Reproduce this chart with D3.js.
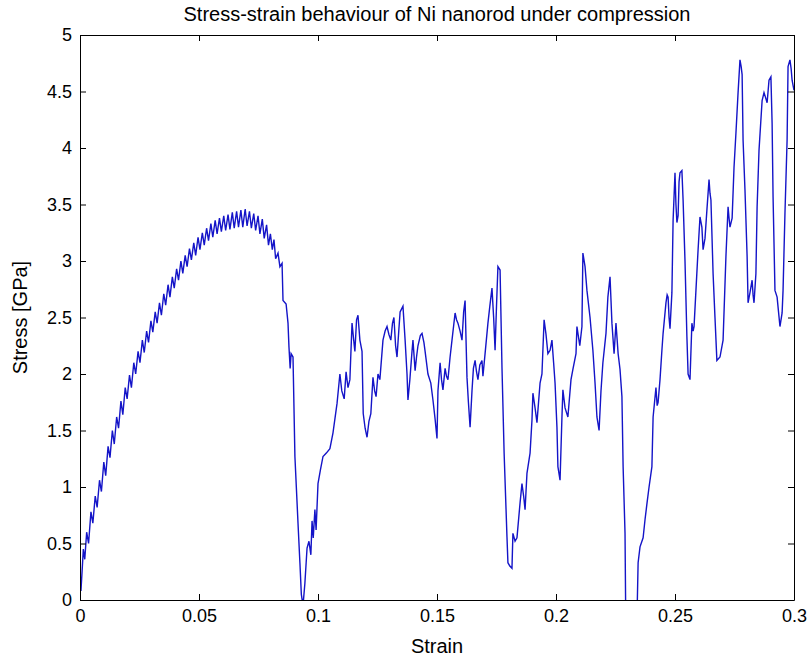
<!DOCTYPE html>
<html>
<head>
<meta charset="utf-8">
<script src="https://cdn.jsdelivr.net/npm/d3@7"></script>
<style>
  body { margin: 0; background: #fff; }
  svg text { font-family: "Liberation Sans", Arial, sans-serif; fill: #000; }
</style>
</head>
<body>
<div id="chart"></div>
<script>
// strain / stress pairs, split by regime
const loading = [
  [0.0000,0.22],[0.0004,0.08],[0.0010,0.30],[0.0014,0.45],[0.0020,0.36],[0.0028,0.60],[0.0036,0.50],
  [0.0046,0.78],[0.0054,0.68],[0.0064,0.92],[0.0072,0.82],[0.0082,1.06],[0.0090,0.96],[0.0100,1.22],
  [0.0108,1.10],[0.0118,1.36],[0.0126,1.26],[0.0136,1.50],[0.0144,1.38],[0.0154,1.62],[0.0162,1.52],
  [0.0172,1.76],[0.0180,1.64],[0.0190,1.88],[0.0198,1.78],[0.0208,1.99],[0.0216,1.88],[0.0226,2.10],
  [0.0234,2.00],[0.0244,2.20],[0.0252,2.10],[0.0262,2.30],[0.0270,2.19],[0.0280,2.38],[0.0288,2.28],
  [0.0298,2.47],[0.0306,2.37],[0.0316,2.55],[0.0324,2.45],[0.0334,2.63],[0.0342,2.52],[0.0352,2.71],
  [0.0360,2.61],[0.0370,2.79],[0.0378,2.68],[0.0388,2.86],[0.0396,2.76],[0.0406,2.93],[0.0414,2.83],
  [0.0424,3.00],[0.0432,2.89],[0.0442,3.05],[0.0450,2.95],[0.0460,3.11],[0.0468,3.01],[0.0478,3.16],
  [0.0486,3.05],[0.0496,3.21],[0.0504,3.10],[0.0514,3.25],[0.0522,3.14],[0.0532,3.29],[0.0540,3.18],
  [0.0550,3.33],[0.0558,3.21],[0.0568,3.36],[0.0576,3.24],[0.0586,3.38],[0.0594,3.26],[0.0604,3.40],
  [0.0612,3.27],[0.0622,3.41],[0.0630,3.28],[0.0640,3.43],[0.0648,3.29],[0.0658,3.44],[0.0666,3.30],
  [0.0676,3.45],[0.0684,3.30],[0.0694,3.46],[0.0702,3.31],[0.0712,3.44],[0.0720,3.29],[0.0730,3.42],
  [0.0738,3.27],[0.0748,3.40],[0.0756,3.24],[0.0766,3.37],[0.0774,3.20],[0.0784,3.32],[0.0792,3.14],
  [0.0800,3.24],[0.0808,3.10]
];
const firstDrop = [
  [0.0815,3.19],[0.0822,3.02],[0.0832,3.07],[0.0840,2.95],[0.0849,2.98],[0.0853,2.65],[0.0866,2.62],
  [0.0874,2.45],[0.0878,2.24],[0.0883,2.05],[0.0887,2.18],[0.0895,2.15],[0.0903,1.27],[0.0916,0.68],
  [0.0924,0.33],[0.0930,0.05],[0.0937,-0.05],[0.0945,0.15],[0.0954,0.46]
];
const recovery = [
  [0.0962,0.52],[0.0970,0.40],[0.0975,0.70],[0.0980,0.55],[0.0987,0.80],[0.0992,0.62],[0.1000,1.03],
  [0.1010,1.15],[0.1021,1.27],[0.1035,1.30],[0.1050,1.34],[0.1063,1.48],[0.1080,1.74],[0.1092,2.00],
  [0.1100,1.85],[0.1110,1.78],[0.1118,2.02],[0.1126,1.88],[0.1134,1.95],[0.1143,2.45],[0.1150,2.30],
  [0.1155,2.20],[0.1162,2.48],[0.1168,2.52],[0.1176,2.30],[0.1185,2.20],[0.1190,1.65],[0.1198,1.52],
  [0.1206,1.44],[0.1214,1.58],[0.1222,1.65],[0.1231,1.97],[0.1238,1.85],[0.1244,1.80],[0.1252,2.00],
  [0.1260,1.95],[0.1273,2.30],[0.1282,2.38],[0.1290,2.42],[0.1298,2.35],[0.1306,2.30],[0.1313,2.45],
  [0.1319,2.50],[0.1326,2.25],[0.1332,2.15],[0.1340,2.40],[0.1345,2.55],[0.1357,2.60],[0.1366,2.30],
  [0.1374,2.00],[0.1378,1.77],[0.1386,1.95],[0.1395,2.20],[0.1399,2.30],[0.1408,2.03],[0.1414,2.15],
  [0.1420,2.25],[0.1430,2.34],[0.1437,2.36],[0.1445,2.28],[0.1450,2.20],[0.1462,2.00],[0.1474,1.92],
  [0.1483,1.77],[0.1492,1.60],[0.1500,1.43],[0.1504,1.85],[0.1513,2.10],[0.1519,1.95],[0.1525,1.86],
  [0.1534,2.05],[0.1540,1.98],[0.1546,1.95],[0.1555,2.15],[0.1563,2.30],[0.1576,2.54],[0.1582,2.48],
  [0.1588,2.45],[0.1597,2.38],[0.1605,2.30],[0.1612,2.55],[0.1618,2.65],[0.1622,2.30],[0.1626,1.97],
  [0.1632,1.75],[0.1639,1.53],[0.1647,1.85],[0.1653,2.05],[0.1660,2.12],[0.1666,2.02],[0.1672,1.95],
  [0.1680,2.08],[0.1689,2.12],[0.1693,1.98],[0.1702,2.18],[0.1714,2.45],[0.1722,2.60],[0.1731,2.76],
  [0.1738,2.50],[0.1744,2.21],[0.1750,2.60],[0.1756,2.95],[0.1765,2.92],[0.1773,2.06],[0.1782,1.30],
  [0.1794,0.56],[0.1798,0.33],[0.1806,0.30],[0.1815,0.28],[0.1819,0.59],[0.1828,0.52],[0.1836,0.55],
  [0.1849,0.86],[0.1857,1.03],[0.1864,0.92],[0.1870,0.80],[0.1878,1.12],[0.1891,1.30],[0.1899,1.59],
  [0.1903,1.83],[0.1912,1.70],[0.1920,1.57],[0.1933,1.92],[0.1941,2.00],[0.1950,2.48],[0.1958,2.35],
  [0.1966,2.18],[0.1975,2.21],[0.1983,2.30],[0.1990,2.10],[0.1996,1.92],[0.2004,1.53],[0.2008,1.18],
  [0.2017,1.06],[0.2025,1.62],[0.2029,1.86],[0.2038,1.70],[0.2050,1.62],[0.2063,1.95],[0.2071,2.04],
  [0.2084,2.18],[0.2088,2.42],[0.2100,2.25],[0.2109,2.42],[0.2113,3.07],[0.2122,2.95],[0.2130,2.74],
  [0.2143,2.50],[0.2155,2.21],[0.2164,1.92],[0.2172,1.62],[0.2181,1.50],[0.2189,1.85],[0.2197,2.10],
  [0.2210,2.36],[0.2218,2.68],[0.2227,2.86],[0.2235,2.45],[0.2244,2.18],[0.2252,2.45],[0.2261,2.18],
  [0.2269,2.04],[0.2277,1.80],[0.2282,1.18],[0.2290,0.59],[0.2294,-0.40]
];
const finalRise = [
  [0.2338,-0.40],[0.2345,0.33],[0.2353,0.47],[0.2366,0.55],[0.2374,0.71],[0.2382,0.85],[0.2391,1.00],
  [0.2403,1.18],[0.2408,1.62],[0.2420,1.88],[0.2425,1.72],[0.2429,1.75],[0.2437,1.95],[0.2445,2.21],
  [0.2450,2.36],[0.2462,2.63],[0.2467,2.70],[0.2471,2.68],[0.2475,2.50],[0.2479,2.40],[0.2487,2.72],
  [0.2492,3.36],[0.2500,3.78],[0.2504,3.50],[0.2508,3.34],[0.2513,3.40],[0.2517,3.70],[0.2521,3.78],
  [0.2529,3.80],[0.2534,3.54],[0.2542,3.00],[0.2550,2.33],[0.2555,2.00],[0.2563,1.95],[0.2571,2.45],
  [0.2576,2.38],[0.2580,2.42],[0.2588,2.74],[0.2597,3.10],[0.2605,3.39],[0.2613,3.30],[0.2618,3.10],
  [0.2626,3.20],[0.2634,3.45],[0.2643,3.72],[0.2647,3.60],[0.2651,3.54],[0.2660,2.89],[0.2668,2.50],
  [0.2676,2.12],[0.2689,2.15],[0.2702,2.30],[0.2714,3.04],[0.2723,3.48],[0.2727,3.38],[0.2731,3.30],
  [0.2740,3.38],[0.2748,3.83],[0.2756,4.13],[0.2765,4.49],[0.2773,4.78],[0.2778,4.72],[0.2782,4.65],
  [0.2786,4.07],[0.2794,3.63],[0.2803,3.04],[0.2807,2.63],[0.2815,2.72],[0.2824,2.83],[0.2828,2.70],
  [0.2832,2.63],[0.2840,2.89],[0.2845,3.48],[0.2853,3.98],[0.2866,4.42],[0.2874,4.49],[0.2880,4.45],
  [0.2887,4.40],[0.2895,4.60],[0.2903,4.63],[0.2908,4.22],[0.2912,3.57],[0.2920,2.74],[0.2929,2.68],
  [0.2935,2.55],[0.2941,2.42],[0.2950,2.54],[0.2954,2.74],[0.2962,3.42],[0.2971,4.07],[0.2975,4.72],
  [0.2983,4.78],[0.2988,4.70],[0.2992,4.60],[0.3000,4.51]
];

const xTicks = [0, 0.05, 0.1, 0.15, 0.2, 0.25, 0.3];
const yTicks = [0, 0.5, 1, 1.5, 2, 2.5, 3, 3.5, 4, 4.5, 5];

const title = "Stress-strain behaviour of Ni nanorod under compression";
const xLabel = "Strain";
const yLabel = "Stress [GPa]";

const width = 810, height = 660;
const margin = {top: 35, right: 16, bottom: 60, left: 80};
const innerW = width - margin.left - margin.right;
const innerH = height - margin.top - margin.bottom;

const curve = loading.concat(firstDrop, recovery, finalRise);

const svg = d3.select("#chart").append("svg")
    .attr("width", width)
    .attr("height", height)
    .style("background", "#fff");

const x = d3.scaleLinear().domain([0, 0.3]).range([0, innerW]);
const y = d3.scaleLinear().domain([0, 5]).range([innerH, 0]);

const g = svg.append("g")
    .attr("transform", "translate(" + margin.left + "," + margin.top + ")");

// clip so the dips below zero stop at the axis
g.append("clipPath").attr("id", "plotclip")
  .append("rect").attr("width", innerW).attr("height", innerH);

g.append("path")
    .datum(curve)
    .attr("clip-path", "url(#plotclip)")
    .attr("fill", "none")
    .attr("stroke", "#1414c8")
    .attr("stroke-width", 1.4)
    .attr("d", d3.line().x(d => x(d[0])).y(d => y(d[1])));

const fmt = d => String(d);

// matlab style: ticks inside, on all four sides
const xAxis = g.append("g").attr("transform", "translate(0," + innerH + ")")
    .call(d3.axisBottom(x).tickValues(xTicks).tickFormat(fmt).tickSizeInner(-6).tickSizeOuter(0).tickPadding(9));
const yAxis = g.append("g")
    .call(d3.axisLeft(y).tickValues(yTicks).tickFormat(fmt).tickSizeInner(-6).tickSizeOuter(0).tickPadding(8));
const xTop = g.append("g")
    .call(d3.axisTop(x).tickValues(xTicks).tickFormat("").tickSizeInner(-6).tickSizeOuter(0));
const yRight = g.append("g").attr("transform", "translate(" + innerW + ",0)")
    .call(d3.axisRight(y).tickValues(yTicks).tickFormat("").tickSizeInner(-6).tickSizeOuter(0));

[xAxis, yAxis, xTop, yRight].forEach(a => {
  a.selectAll("path, line").attr("stroke", "#000").attr("stroke-width", 1);
  a.selectAll("text").style("font-size", "18px").attr("fill", "#000");
});

svg.append("text")
    .attr("x", margin.left + innerW / 2)
    .attr("y", 21)
    .attr("text-anchor", "middle")
    .style("font-size", "20px")
    .text(title);

svg.append("text")
    .attr("x", margin.left + innerW / 2)
    .attr("y", 653)
    .attr("text-anchor", "middle")
    .style("font-size", "20px")
    .text(xLabel);

svg.append("text")
    .attr("transform", "translate(27," + (margin.top + innerH / 2) + ") rotate(-90)")
    .attr("text-anchor", "middle")
    .style("font-size", "20px")
    .text(yLabel);
</script>
</body>
</html>
